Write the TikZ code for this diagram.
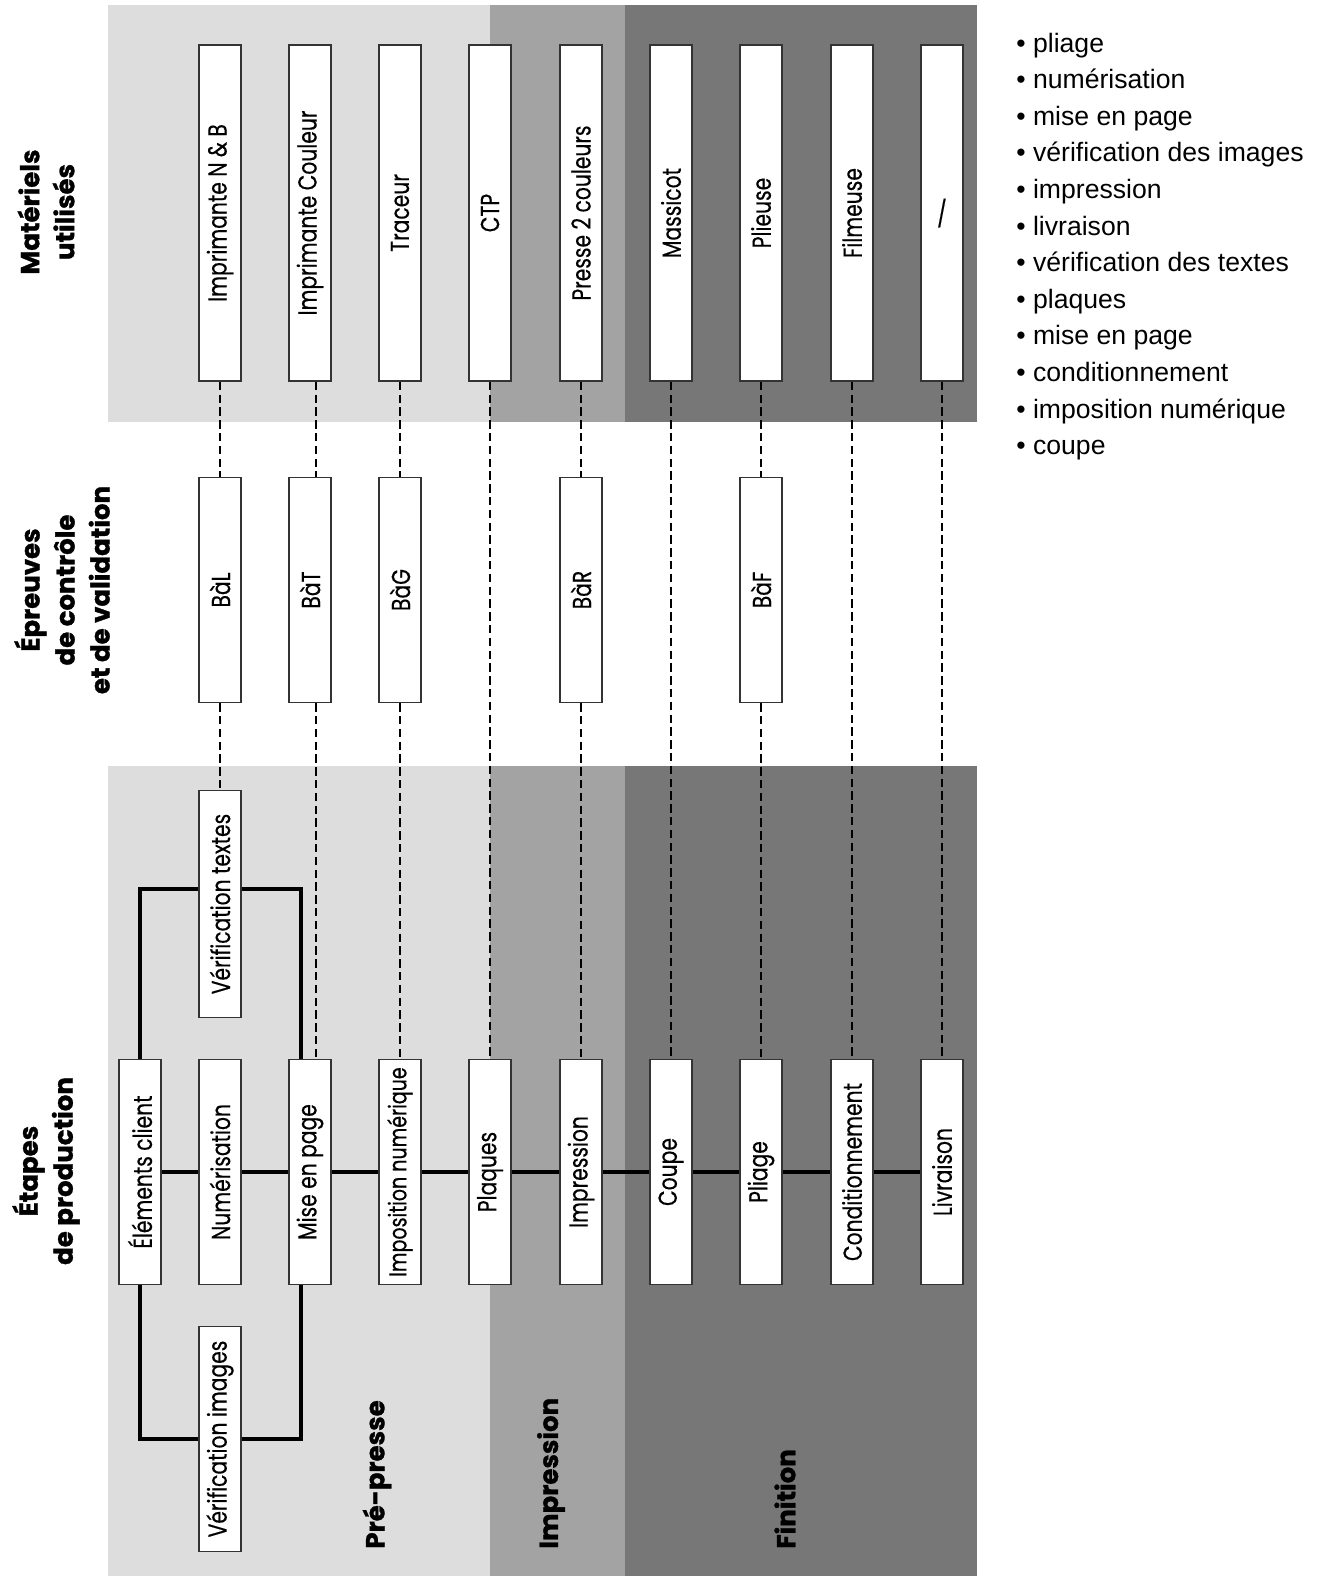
\documentclass[tikz,border=0pt]{standalone}
\usepackage{fontspec}
\usepackage{graphicx}
\setmainfont{Liberation Sans}
\newfontfamily\boxfont{Poppins}[FakeStretch=0.78, FakeBold=0.4]
\newfontfamily\titlefont{Poppins}[BoldFeatures={FakeBold=1.2}]
\definecolor{prepresse}{gray}{0.865}
\definecolor{impr}{gray}{0.64}
\definecolor{finition}{gray}{0.465}
\definecolor{boxline}{gray}{0.2}
\pgfdeclarelayer{bands}
\pgfdeclarelayer{links}
\pgfsetlayers{bands,links,main}
\newcommand{\tourne}[1]{\rotatebox{90}{#1}}

\tikzset{
  poste/.style={draw=boxline, fill=white, line width=0.75pt, minimum width=21pt,
    minimum height=112.5pt, inner sep=0pt, font=\boxfont\fontsize{13}{15}\selectfont},
  materiel/.style={poste, minimum height=168pt},
  chaine/.style={line width=2pt, black},
  lien/.style={line width=1.3pt, dash pattern=on 4.2pt off 2.2pt},
  titre/.style={rotate=90, align=center, inner sep=0pt,
    font=\titlefont\bfseries\fontsize{13}{17.5}\selectfont},
  section/.style={rotate=90, anchor=west, inner sep=0pt,
    font=\titlefont\bfseries\fontsize{13}{15}\selectfont},
  legende/.style={anchor=base west, inner sep=0pt, font=\fontsize{13.3}{16}\selectfont}
}

\begin{document}
\begin{tikzpicture}[x=0.5pt, y=-0.5pt]
\useasboundingbox (0,0) rectangle (1320,1576);

\begin{pgfonlayer}{bands}
\fill[prepresse] (108,5) rectangle (490,422);
\fill[impr] (490,5) rectangle (625,422);
\fill[finition] (625,5) rectangle (977,422);
\fill[prepresse] (108,766) rectangle (490,1576);
\fill[impr] (490,766) rectangle (625,1576);
\fill[finition] (625,766) rectangle (977,1576);
\end{pgfonlayer}

% materiels utilises
\node[materiel] (nb) at (220,213) {\tourne{Imprimante N \& B}};
\node[materiel] (coul) at (310,213) {\tourne{Imprimante Couleur}};
\node[materiel] (traceur) at (400,213) {\tourne{Traceur}};
\node[materiel] (ctp) at (490,213) {\tourne{CTP}};
\node[materiel] (presse) at (581,213) {\tourne{Presse 2 couleurs}};
\node[materiel] (massicot) at (671,213) {\tourne{Massicot}};
\node[materiel] (plieuse) at (761,213) {\tourne{Plieuse}};
\node[materiel] (filmeuse) at (852,213) {\tourne{Filmeuse}};
\node[materiel] (aucun) at (942,213) {/};

% epreuves
\node[poste] (bal) at (220,590) {\tourne{BàL}};
\node[poste] (bat) at (310,590) {\tourne{BàT}};
\node[poste] (bag) at (400,590) {\tourne{BàG}};
\node[poste] (bar) at (581,590) {\tourne{BàR}};
\node[poste] (baf) at (761,590) {\tourne{BàF}};

% etapes
\node[poste] (clients) at (140,1172) {\tourne{Éléments client}};
\node[poste] (numer) at (220,1172) {\tourne{Numérisation}};
\node[poste] (mep) at (310,1172) {\tourne{Mise en page}};
\node[poste, font=\boxfont\fontsize{12.2}{14}\selectfont] (impo) at (400,1172) {\tourne{Imposition numérique}};
\node[poste] (plaques) at (490,1172) {\tourne{Plaques}};
\node[poste] (impress) at (581,1172) {\tourne{Impression}};
\node[poste] (coupe) at (671,1172) {\tourne{Coupe}};
\node[poste] (pliage) at (761,1172) {\tourne{Pliage}};
\node[poste] (condit) at (852,1172) {\tourne{Conditionnement}};
\node[poste] (livr) at (942,1172) {\tourne{Livraison}};
\node[poste, minimum height=113.5pt] (vtextes) at (220,904) {\tourne{Vérification textes}};
\node[poste] (vimages) at (220,1439) {\tourne{Vérification images}};

\begin{pgfonlayer}{links}
\draw[lien] (nb) -- (bal);
\draw[lien] (bal) -- (vtextes);
\draw[lien] ([xshift=3pt]coul.south) -- ([xshift=3pt]bat.north);
\draw[lien] ([xshift=3pt]bat.south) -- ([xshift=3pt]mep.north);
\draw[lien] (traceur) -- (bag);
\draw[lien] (bag) -- (impo);
\draw[lien] (ctp) -- (plaques);
\draw[lien] (presse) -- (bar);
\draw[lien] (bar) -- (impress);
\draw[lien] (massicot) -- (coupe);
\draw[lien] (plieuse) -- (baf);
\draw[lien] (baf) -- (pliage);
\draw[lien] (filmeuse) -- (condit);
\draw[lien] (aucun) -- (livr);

\draw[chaine] (clients) -- (numer) -- (mep) -- (impo) -- (plaques) -- (impress)
  -- (coupe) -- (pliage) -- (condit) -- (livr);
\coordinate (hautd) at (301,889);
\coordinate (basd) at (301,1439);
\draw[chaine] (clients.north) |- (hautd) -- (hautd |- mep.north);
\draw[chaine] (clients.south) |- (basd) -- (basd |- mep.south);
\end{pgfonlayer}

% titres
\node[titre] (materiels) at (46,212) {Matériels\\utilisés};
\node[titre] (epreuves) at (62,590) {Épreuves\\de contrôle\\et de validation};
\node[titre] (etapes) at (46,1171) {Étapes\\de production};

\node[section] (prep) at (377,1549) {Pré-presse};
\node[section] (impsec) at (551,1549) {Impression};
\node[section] (finsec) at (785,1549) {Finition};

% legende
\foreach \t [count=\i] in {pliage, numérisation, mise en page, vérification des images,
  impression, livraison, vérification des textes, plaques, mise en page,
  conditionnement, imposition numérique, coupe}
  \node[legende] (leg\i) at (1016, 52+36.6*\i-36.6) {• \t};

\end{tikzpicture}
\end{document}
